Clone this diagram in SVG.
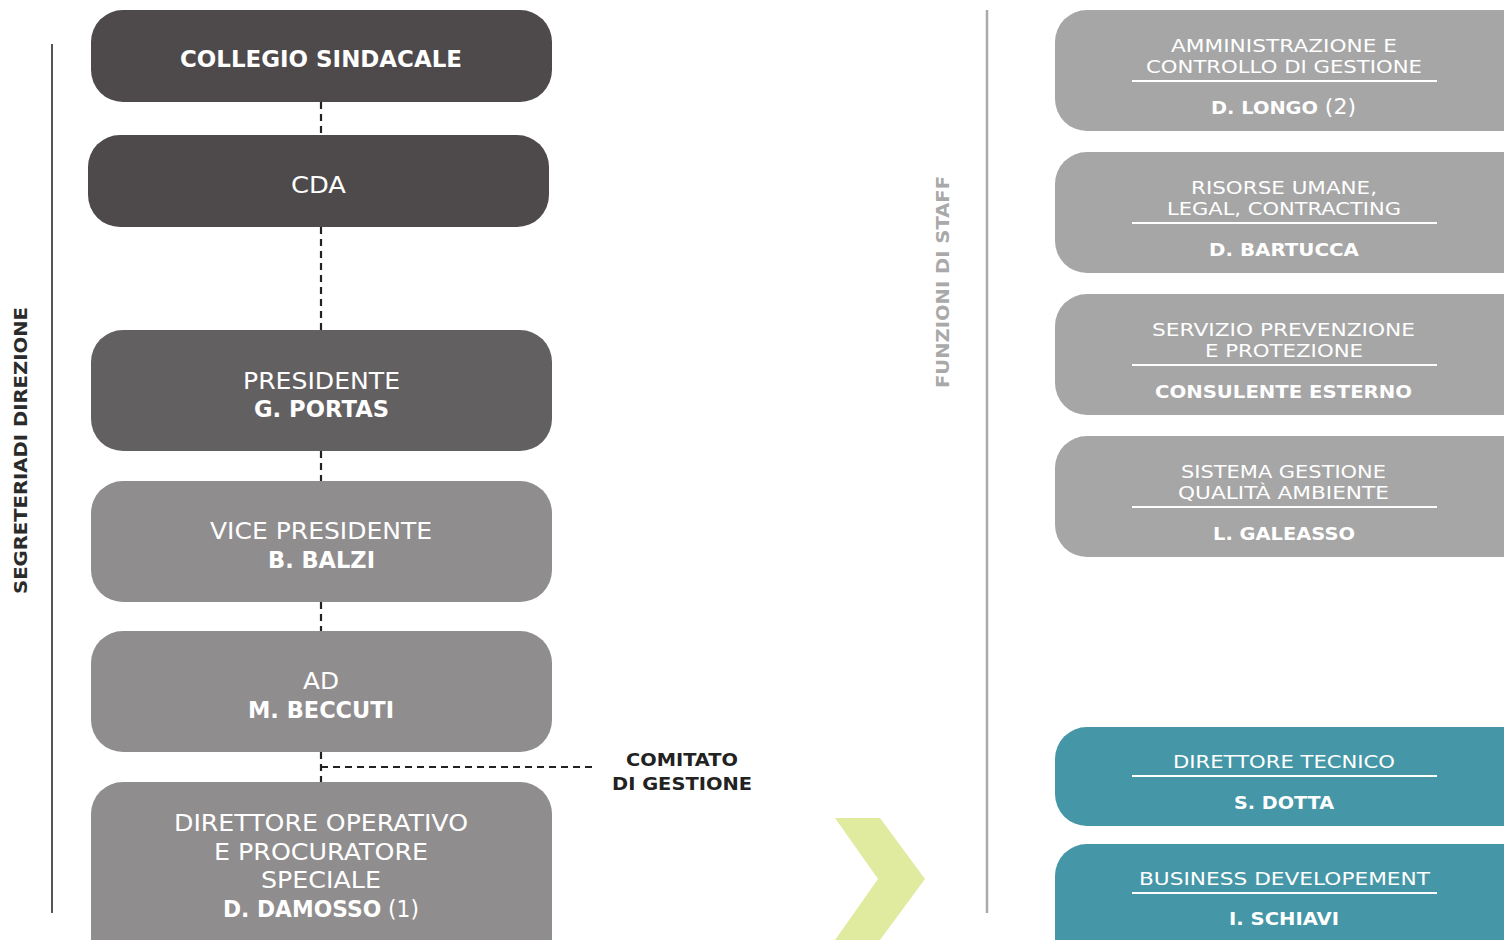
<svg xmlns="http://www.w3.org/2000/svg" width="1504" height="940" viewBox="0 0 1504 940">
<style>
text{font-family:"DejaVu Sans","Open Sans",sans-serif;text-anchor:middle;fill:#fff}
.l{font-size:23px}
.b{font-weight:700}
.r{font-size:18.5px}
.rn{font-size:18.5px;font-weight:700}
.sep{stroke:#fff;stroke-width:2}
.dash{stroke:#222;stroke-width:2.2;stroke-dasharray:7,5;fill:none}
.dark{fill:#4e4a4b}.mid{fill:#636061}.gray{fill:#8f8d8e}.lg{fill:#a6a6a6}.teal{fill:#4597a7}
</style>
<rect width="1504" height="940" fill="#fff"/>
<line x1="52" y1="44" x2="52" y2="913" stroke="#555" stroke-width="2"/>
<text transform="translate(27,450.5) rotate(-90)" textLength="287" lengthAdjust="spacingAndGlyphs" style="font-size:18px;font-weight:700;fill:#2b2b2b">SEGRETERIADI DIREZIONE</text>
<line x1="987" y1="10" x2="987" y2="913" stroke="#aaa" stroke-width="2.5"/>
<text transform="translate(949,282) rotate(-90)" textLength="212" lengthAdjust="spacingAndGlyphs" style="font-size:18px;font-weight:700;fill:#a9a9a9">FUNZIONI DI STAFF</text>
<polygon points="835,818 880,818 925,879 880,940 835,940 878,879" fill="#e1eba0"/>
<g id="connectors">
<path class="dash" d="M321,102V135M321,227V330M321,451V481M321,602V631M321,752V782M321,767H595"/>
</g>
<g id="collegio"><rect class="dark" x="91" y="10" width="461" height="92" rx="32"/><text class="l b" x="321" y="67" textLength="282" lengthAdjust="spacingAndGlyphs">COLLEGIO SINDACALE</text></g>
<g id="cda"><rect class="dark" x="88" y="135" width="461" height="92" rx="32"/><text class="l" x="318.5" y="193" textLength="55" lengthAdjust="spacingAndGlyphs">CDA</text></g>
<g id="presidente"><rect class="mid" x="91" y="330" width="461" height="121" rx="32"/><text class="l" x="321.5" y="389" textLength="157" lengthAdjust="spacingAndGlyphs">PRESIDENTE</text><text class="l b" x="321.5" y="417" textLength="135" lengthAdjust="spacingAndGlyphs">G. PORTAS</text></g>
<g id="vice"><rect class="gray" x="91" y="481" width="461" height="121" rx="32"/><text class="l" x="321" y="539" textLength="222" lengthAdjust="spacingAndGlyphs">VICE PRESIDENTE</text><text class="l b" x="321.5" y="568" textLength="107" lengthAdjust="spacingAndGlyphs">B. BALZI</text></g>
<g id="ad"><rect class="gray" x="91" y="631" width="461" height="121" rx="32"/><text class="l" x="321" y="689" textLength="36" lengthAdjust="spacingAndGlyphs">AD</text><text class="l b" x="321" y="718" textLength="146" lengthAdjust="spacingAndGlyphs">M. BECCUTI</text></g>
<g id="direttore-operativo"><rect class="gray" x="91" y="782" width="461" height="190" rx="32"/><text class="l" x="321" y="831" textLength="294" lengthAdjust="spacingAndGlyphs">DIRETTORE OPERATIVO</text><text class="l" x="321" y="860" textLength="214" lengthAdjust="spacingAndGlyphs">E PROCURATORE</text><text class="l" x="321" y="888" textLength="120" lengthAdjust="spacingAndGlyphs">SPECIALE</text><text class="l" x="321" y="917" textLength="196" lengthAdjust="spacingAndGlyphs"><tspan class="b">D. DAMOSSO</tspan> (1)</text></g>
<g id="comitato"><text x="682" y="766" textLength="112" lengthAdjust="spacingAndGlyphs" style="font-size:18px;font-weight:700;fill:#222">COMITATO</text><text x="682" y="790" textLength="140" lengthAdjust="spacingAndGlyphs" style="font-size:18px;font-weight:700;fill:#222">DI GESTIONE</text></g>
<g id="amministrazione"><rect class="lg" x="1055" y="10" width="490" height="121" rx="32"/><text class="r" x="1284" y="52" textLength="226" lengthAdjust="spacingAndGlyphs">AMMINISTRAZIONE E</text><text class="r" x="1284" y="73" textLength="276" lengthAdjust="spacingAndGlyphs">CONTROLLO DI GESTIONE</text><line class="sep" x1="1132" y1="81" x2="1437" y2="81"/><text class="rn" x="1283.5" y="114" textLength="145" lengthAdjust="spacingAndGlyphs">D. LONGO <tspan style="font-weight:400;font-size:21px">(2)</tspan></text></g>
<g id="risorse"><rect class="lg" x="1055" y="152" width="490" height="121" rx="32"/><text class="r" x="1284" y="194" textLength="186" lengthAdjust="spacingAndGlyphs">RISORSE UMANE,</text><text class="r" x="1284" y="215" textLength="234" lengthAdjust="spacingAndGlyphs">LEGAL, CONTRACTING</text><line class="sep" x1="1132" y1="223" x2="1437" y2="223"/><text class="rn" x="1284" y="256" textLength="150" lengthAdjust="spacingAndGlyphs">D. BARTUCCA</text></g>
<g id="servizio"><rect class="lg" x="1055" y="294" width="490" height="121" rx="32"/><text class="r" x="1283.5" y="336" textLength="263" lengthAdjust="spacingAndGlyphs">SERVIZIO PREVENZIONE</text><text class="r" x="1284" y="357" textLength="158" lengthAdjust="spacingAndGlyphs">E PROTEZIONE</text><line class="sep" x1="1132" y1="365" x2="1437" y2="365"/><text class="rn" x="1283.5" y="398" textLength="257" lengthAdjust="spacingAndGlyphs">CONSULENTE ESTERNO</text></g>
<g id="sistema"><rect class="lg" x="1055" y="436" width="490" height="121" rx="32"/><text class="r" x="1283.5" y="478" textLength="205" lengthAdjust="spacingAndGlyphs">SISTEMA GESTIONE</text><text class="r" x="1283.5" y="499" textLength="211" lengthAdjust="spacingAndGlyphs">QUALITÀ AMBIENTE</text><line class="sep" x1="1132" y1="507" x2="1437" y2="507"/><text class="rn" x="1284" y="540" textLength="142" lengthAdjust="spacingAndGlyphs">L. GALEASSO</text></g>
<g id="direttore-tecnico"><rect class="teal" x="1055" y="727" width="490" height="99" rx="32"/><text class="r" x="1284" y="768" textLength="222" lengthAdjust="spacingAndGlyphs">DIRETTORE TECNICO</text><line class="sep" x1="1132" y1="776" x2="1437" y2="776"/><text class="rn" x="1284" y="809" textLength="100" lengthAdjust="spacingAndGlyphs">S. DOTTA</text></g>
<g id="business"><rect class="teal" x="1055" y="844" width="490" height="130" rx="32"/><text class="r" x="1284.5" y="885" textLength="291" lengthAdjust="spacingAndGlyphs">BUSINESS DEVELOPEMENT</text><line class="sep" x1="1132" y1="893" x2="1437" y2="893"/><text class="rn" x="1284" y="925" textLength="110" lengthAdjust="spacingAndGlyphs">I. SCHIAVI</text></g>
</svg>
